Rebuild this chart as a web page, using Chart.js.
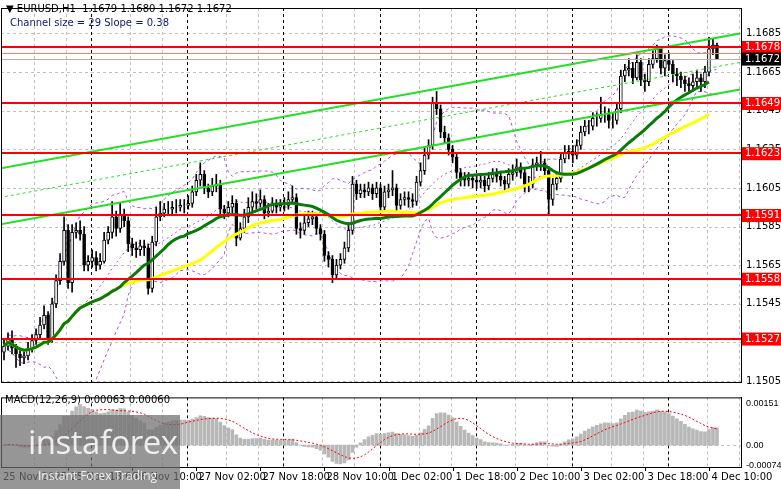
<!DOCTYPE html>
<html>
<head>
<meta charset="utf-8">
<script src="https://cdn.jsdelivr.net/npm/chart.js@4"></script>
<style>
  body { margin: 0; background: #fff; width: 781px; height: 489px; overflow: hidden; position: relative; font-family: "DejaVu Sans", sans-serif; }
  #main { position: absolute; left: 0; top: 0; }
  #macd { position: absolute; left: 0; top: 390px; }
  .txt { position: absolute; font-size: 10px; white-space: pre; color: #000; }
  #logo { position: absolute; left: 0; top: 415px; width: 180px; height: 74px; background: rgba(110,110,110,0.72); color: rgba(255,255,255,0.85); }
  #logo .big { position: absolute; left: 28px; top: 4px; font-size: 33px; font-family: "Open Sans", sans-serif; letter-spacing: -0.5px; }
  #logo .small { position: absolute; left: 38px; top: 52px; font-size: 12px; font-family: "Open Sans", sans-serif; }
</style>
</head>
<body>
<canvas id="main" width="781" height="390"></canvas>
<canvas id="macd" width="781" height="99"></canvas>
<div class="txt" style="left:6px;top:3px;">▼ EURUSD,H1  1.1679 1.1680 1.1672 1.1672</div>
<div class="txt" style="left:10px;top:17px;color:#0e1a6a;">Channel size = 29 Slope = 0.38</div>
<div class="txt" style="left:5px;top:394px;">MACD(12,26,9) 0.00063 0.00060</div>
<div id="logo"><div class="big">instaforex</div><div class="small">Instant Forex Trading</div></div>
<script>
// EURUSD H1, 25 Nov 02:00 .. 4 Dec 12:00
const closes = [
 1.1523,1.1527,1.1522,1.1519,1.1517,1.1518,1.1522,1.1526,1.1529,1.1534,1.1539,1.1527,1.1545,1.1557,1.1567,1.1583,1.1556,1.1582,1.1583,1.1581,
 1.1565,1.1567,1.1569,1.1565,1.1567,1.1578,1.1582,1.1590,1.1584,1.1591,1.1588,1.1576,1.1574,1.1573,1.1575,1.1574,1.1553,1.1577,1.1590,1.1592,
 1.1594,1.1594,1.1595,1.1595,1.1596,1.1596,1.1597,1.1603,1.1609,1.1612,1.1605,1.1603,1.1606,1.1607,1.1594,1.1592,1.1595,1.1597,1.1579,1.1584,
 1.1590,1.1595,1.1598,1.1597,1.1599,1.1592,1.1593,1.1596,1.1595,1.1596,1.1596,1.1599,1.1600,1.1584,1.1583,1.1587,1.1589,1.1590,1.1584,1.1581,
 1.1570,1.1568,1.1560,1.1565,1.1568,1.1574,1.1583,1.1607,1.1602,1.1604,1.1603,1.1605,1.1602,1.1605,1.1595,1.1603,1.1604,1.1605,1.1596,1.1599,
 1.1600,1.1599,1.1598,1.1608,1.1614,1.1622,1.1627,1.1649,1.1646,1.1634,1.1631,1.1625,1.1621,1.1613,1.1610,1.1609,1.1610,1.1609,1.1608,1.1609,
 1.1606,1.1610,1.1612,1.1611,1.1609,1.1607,1.1612,1.1613,1.1616,1.1613,1.1607,1.1607,1.1617,1.1618,1.1618,1.1614,1.1599,1.1607,1.1610,1.1620,
 1.1623,1.1624,1.1622,1.1627,1.1634,1.1637,1.1637,1.1641,1.1641,1.1643,1.1643,1.1640,1.1640,1.1646,1.1663,1.1666,1.1667,1.1662,1.1670,1.1661,
 1.1660,1.1669,1.1672,1.1677,1.1667,1.1671,1.1669,1.1664,1.1663,1.1661,1.1659,1.1658,1.1660,1.1662,1.1660,1.1665,1.1677,1.1679,1.1672
];
const highs = [
 1.1527,1.1530,1.1531,1.1524,1.1521,1.1521,1.1525,1.1529,1.1532,1.1538,1.1544,1.1541,1.1548,1.1560,1.1571,1.1590,1.1586,1.1586,1.1587,1.1588,
 1.1585,1.1570,1.1573,1.1572,1.1571,1.1582,1.1585,1.1598,1.1593,1.1597,1.1594,1.1590,1.1579,1.1577,1.1578,1.1578,1.1576,1.1580,1.1595,1.1598,
 1.1597,1.1598,1.1598,1.1599,1.1599,1.1599,1.1601,1.1606,1.1612,1.1618,1.1614,1.1607,1.1610,1.1612,1.1609,1.1596,1.1598,1.1601,1.1599,1.1587,
 1.1594,1.1600,1.1603,1.1602,1.1604,1.1601,1.1597,1.1600,1.1599,1.1599,1.1600,1.1603,1.1606,1.1602,1.1587,1.1591,1.1593,1.1593,1.1592,1.1586,
 1.1583,1.1572,1.1570,1.1568,1.1571,1.1577,1.1587,1.1611,1.1609,1.1607,1.1607,1.1608,1.1607,1.1608,1.1607,1.1606,1.1607,1.1614,1.1607,1.1602,
 1.1603,1.1603,1.1602,1.1611,1.1618,1.1626,1.1630,1.1652,1.1655,1.1648,1.1637,1.1633,1.1627,1.1623,1.1615,1.1613,1.1613,1.1612,1.1612,1.1612,
 1.1611,1.1613,1.1615,1.1615,1.1613,1.1611,1.1615,1.1617,1.1620,1.1618,1.1615,1.1611,1.1620,1.1621,1.1624,1.1620,1.1616,1.1610,1.1613,1.1623,
 1.1627,1.1627,1.1627,1.1630,1.1637,1.1640,1.1640,1.1644,1.1644,1.1652,1.1647,1.1646,1.1644,1.1649,1.1666,1.1669,1.1672,1.1670,1.1674,1.1672,
 1.1664,1.1672,1.1676,1.1679,1.1678,1.1674,1.1675,1.1671,1.1667,1.1665,1.1663,1.1662,1.1664,1.1666,1.1664,1.1668,1.1683,1.1682,1.1680
];
const lows = [
 1.1516,1.1521,1.1519,1.1512,1.1513,1.1514,1.1516,1.1520,1.1524,1.1527,1.1532,1.1524,1.1525,1.1543,1.1555,1.1565,1.1553,1.1551,1.1579,1.1578,
 1.1562,1.1562,1.1564,1.1562,1.1563,1.1566,1.1576,1.1579,1.1580,1.1582,1.1585,1.1572,1.1570,1.1569,1.1570,1.1570,1.1550,1.1551,1.1575,1.1588,
 1.1590,1.1591,1.1591,1.1592,1.1593,1.1592,1.1594,1.1595,1.1601,1.1606,1.1602,1.1600,1.1601,1.1603,1.1590,1.1589,1.1590,1.1592,1.1575,1.1578,
 1.1582,1.1587,1.1593,1.1594,1.1595,1.1589,1.1590,1.1592,1.1592,1.1593,1.1593,1.1594,1.1597,1.1581,1.1579,1.1581,1.1585,1.1586,1.1581,1.1578,
 1.1567,1.1564,1.1556,1.1558,1.1563,1.1566,1.1572,1.1581,1.1599,1.1600,1.1600,1.1601,1.1599,1.1600,1.1592,1.1593,1.1600,1.1601,1.1593,1.1594,
 1.1596,1.1595,1.1595,1.1596,1.1606,1.1612,1.1620,1.1625,1.1643,1.1631,1.1628,1.1622,1.1618,1.1610,1.1606,1.1606,1.1606,1.1605,1.1605,1.1605,
 1.1603,1.1604,1.1608,1.1608,1.1606,1.1603,1.1605,1.1609,1.1611,1.1610,1.1603,1.1603,1.1605,1.1614,1.1614,1.1611,1.1591,1.1596,1.1604,1.1608,
 1.1618,1.1620,1.1618,1.1620,1.1625,1.1632,1.1633,1.1635,1.1637,1.1639,1.1639,1.1636,1.1636,1.1638,1.1644,1.1660,1.1663,1.1659,1.1661,1.1658,
 1.1655,1.1658,1.1667,1.1670,1.1664,1.1663,1.1666,1.1660,1.1658,1.1657,1.1655,1.1654,1.1655,1.1657,1.1655,1.1657,1.1663,1.1674,1.1672
];
const firstOpen = 1.1520;

const priceTicks = [1.1505,1.1525,1.1545,1.1565,1.1585,1.1605,1.1625,1.1645,1.1665,1.1685];
const levels = [1.1678,1.1649,1.1623,1.1591,1.1558,1.1527];
const bidPrice = 1.1672;
const askPrice = 1.1675;
// channel lines: values at bar index -1.25 and 183.75
const channelX = [-1.25, 183.75];
const channelUpper = [1.1615, 1.1685];
const channelMid = [1.1600, 1.1670];
const channelLower = [1.1586, 1.1656];
const macdTicks = [-0.00074, 0, 0.00151];
const macdTickLabels = ['-0.00074', '0.00', '0.00151'];
const timeTickIdx = [16,32,48,64,80,96,112,128,144,160,176];
const timeTickLabels = ['25 Nov 18:00','26 Nov 10:00','27 Nov 02:00','27 Nov 18:00','28 Nov 10:00','1 Dec 02:00','1 Dec 18:00','2 Dec 10:00','3 Dec 02:00','3 Dec 18:00','4 Dec 10:00'];
const daySeps = [21.75,45.75,69.75,93.75,117.75,141.75,165.75];

const N = closes.length;
const opens = closes.map((c, i) => i === 0 ? firstOpen : closes[i - 1]);

function sma(src, p) {
  return src.map((v, i) => {
    const s = src.slice(Math.max(0, i - p + 1), i + 1);
    return s.reduce((a, b) => a + b, 0) / s.length;
  });
}
function ema(src, p) {
  const k = 2 / (p + 1); let e = src[0];
  return src.map(v => (e = v * k + e * (1 - k)));
}
function stdev(src, p) {
  return src.map((v, i) => {
    const s = src.slice(Math.max(0, i - p + 1), i + 1);
    const m = s.reduce((a, b) => a + b, 0) / s.length;
    return Math.sqrt(s.reduce((a, b) => a + (b - m) * (b - m), 0) / s.length);
  });
}
const maFast = sma(closes, 30);
const maSlow = sma(closes, 50);
const bbMid = sma(closes, 20), bbSd = stdev(closes, 20);
const e12 = ema(closes, 12), e26 = ema(closes, 26);
const macdMain = e12.map((v, i) => v - e26[i]);
const macdSignal = sma(macdMain, 9);

const pts = arr => arr.map((v, i) => ({ x: i, y: v }));
const XMIN = -0.75, XMAX = 184;

function rightAxis(min, max, ticks, labels, font) {
  return {
    position: 'right', min: min, max: max,
    afterFit: s => { s.width = 40; },
    afterBuildTicks: s => { s.ticks = ticks.map(v => ({ value: v })); },
    ticks: { color: '#000', font: font, padding: 2,
      callback: (v, i) => labels ? labels[i] : v.toFixed(4) },
    grid: { display: false, drawTicks: true, tickLength: 3, tickColor: '#000' },
    border: { color: '#000', width: 1 }
  };
}
const xAxis = { type: 'linear', min: XMIN, max: XMAX, offset: false, display: false, grid: { offset: false } };

function dashedV(ctx, area, x, color) {
  ctx.save(); ctx.strokeStyle = color; ctx.lineWidth = 1; ctx.setLineDash([3, 3]);
  ctx.beginPath(); ctx.moveTo(Math.round(x) + 0.5, area.top); ctx.lineTo(Math.round(x) + 0.5, area.bottom); ctx.stroke();
  ctx.restore();
}

const gridPlugin = {
  id: 'grid',
  beforeDatasetsDraw(chart) {
    const { ctx, chartArea: a, scales: { x, y } } = chart;
    ctx.save(); ctx.strokeStyle = '#c0c0c0'; ctx.setLineDash([3, 3]); ctx.lineWidth = 1;
    if (chart.canvas.id === 'main') {
      priceTicks.forEach(p => { const py = Math.round(y.getPixelForValue(p)) + 0.5;
        ctx.beginPath(); ctx.moveTo(a.left, py); ctx.lineTo(a.right, py); ctx.stroke(); });
    } else {
      const py = Math.round(y.getPixelForValue(0)) + 0.5;
      ctx.beginPath(); ctx.moveTo(a.left, py); ctx.lineTo(a.right, py); ctx.stroke();
    }
    ctx.restore();
    for (let i = 7.5; i < XMAX; i += 8) {
      if (daySeps.some(d => Math.abs(d - i) < 3)) continue;
      dashedV(ctx, a, x.getPixelForValue(i), '#c0c0c0');
    }
    daySeps.forEach(d => dashedV(ctx, a, x.getPixelForValue(d), '#000'));
  },
  afterDraw(chart) {
    const { ctx, chartArea: a } = chart;
    ctx.save(); ctx.strokeStyle = '#000'; ctx.lineWidth = 1;
    ctx.strokeRect(a.left + 0.5, a.top + 0.5, a.right - a.left, a.bottom - a.top);
    ctx.restore();
  }
};

function priceBox(ctx, a, py, text, bg) {
  ctx.fillStyle = bg; ctx.fillRect(a.right + 1, py - 6, 40, 13);
  ctx.fillStyle = '#fff'; ctx.font = '10px DejaVu Sans'; ctx.textBaseline = 'middle'; ctx.textAlign = 'left';
  ctx.fillText(text, a.right + 4, py + 0.5);
}

const levelsPlugin = {
  id: 'levels',
  afterDatasetsDraw(chart) {
    const { ctx, chartArea: a, scales: { y } } = chart;
    ctx.save();
    ctx.strokeStyle = '#ff8060'; ctx.lineWidth = 1;
    let py = Math.round(y.getPixelForValue(askPrice)) + 0.5;
    ctx.beginPath(); ctx.moveTo(a.left, py); ctx.lineTo(a.right, py); ctx.stroke();
    ctx.strokeStyle = '#b0b0b0';
    py = Math.round(y.getPixelForValue(bidPrice)) + 0.5;
    ctx.beginPath(); ctx.moveTo(a.left, py); ctx.lineTo(a.right, py); ctx.stroke();
    ctx.strokeStyle = '#ff0000'; ctx.lineWidth = 2;
    levels.forEach(p => { const q = Math.round(y.getPixelForValue(p));
      ctx.beginPath(); ctx.moveTo(a.left, q); ctx.lineTo(a.right, q); ctx.stroke(); });
    ctx.restore();
  },
  afterDraw(chart) {
    const { ctx, chartArea: a, scales: { y } } = chart;
    ctx.save();
    levels.forEach(p => priceBox(ctx, a, y.getPixelForValue(p), p.toFixed(4), '#ff0000'));
    priceBox(ctx, a, y.getPixelForValue(bidPrice), bidPrice.toFixed(4), '#000');
    ctx.restore();
  }
};

const bull = closes.map((c, i) => c >= opens[i]);
new Chart(document.getElementById('main'), {
  type: 'bar',
  data: {
    datasets: [
      { type: 'line', order: 1, data: channelX.map((x, i) => ({ x, y: channelUpper[i] })), borderColor: '#22e022', borderWidth: 2, pointRadius: 0 },
      { type: 'line', order: 1, data: channelX.map((x, i) => ({ x, y: channelLower[i] })), borderColor: '#22e022', borderWidth: 2, pointRadius: 0 },
      { type: 'line', order: 1, data: channelX.map((x, i) => ({ x, y: channelMid[i] })), borderColor: '#22e022', borderWidth: 1, borderDash: [3, 3], pointRadius: 0 },
      { type: 'line', order: 2, data: pts(maFast).slice(0, N - 2), borderColor: '#0a7a0a', borderWidth: 3, pointRadius: 0 },
      { type: 'line', order: 2, data: pts(maSlow).slice(0, N - 2), borderColor: '#ffff00', borderWidth: 3, pointRadius: 0 },
      { order: 3, grouped: false, barThickness: 3, data: closes.map((c, i) => ({ x: i, y: [opens[i], c] })),
        backgroundColor: bull.map(b => b ? '#fff' : '#000'), borderColor: '#000', borderWidth: 1, borderSkipped: false },
      { order: 4, grouped: false, barThickness: 1, data: closes.map((c, i) => ({ x: i, y: [lows[i], highs[i]] })), backgroundColor: '#000' },
      { type: 'line', order: 5, data: pts(bbMid.map((m, i) => m + 2 * bbSd[i])), borderColor: '#b050e0', borderWidth: 1, borderDash: [3, 3], pointRadius: 0 },
      { type: 'line', order: 5, data: pts(bbMid.map((m, i) => m - 2 * bbSd[i])), borderColor: '#b050e0', borderWidth: 1, borderDash: [3, 3], pointRadius: 0 },
      { type: 'line', order: 5, data: pts(bbMid), borderColor: '#b050e0', borderWidth: 1, borderDash: [2, 3], pointRadius: 0 }
    ]
  },
  options: {
    animation: false, responsive: false, events: [],
    layout: { padding: { left: 1, top: 1, bottom: 1, right: 0 } },
    plugins: { legend: { display: false }, tooltip: { enabled: false } },
    scales: { x: xAxis, y: rightAxis(1.15045, 1.16982, priceTicks, null, { size: 10, family: 'DejaVu Sans' }) }
  },
  plugins: [gridPlugin, levelsPlugin]
});

const timePlugin = {
  id: 'time',
  afterDraw(chart) {
    const { ctx, chartArea: a, scales: { x } } = chart;
    ctx.save(); ctx.fillStyle = '#000'; ctx.strokeStyle = '#000'; ctx.font = '10px DejaVu Sans';
    ctx.textBaseline = 'top'; ctx.textAlign = 'left';
    ctx.fillText('25 Nov 2025', 3, a.bottom + 5);
    timeTickIdx.forEach((t, i) => {
      const px = Math.round(x.getPixelForValue(t)) + 0.5;
      ctx.beginPath(); ctx.moveTo(px, a.bottom); ctx.lineTo(px, a.bottom + 4); ctx.stroke();
      ctx.fillText(timeTickLabels[i], px + 2, a.bottom + 5);
    });
    ctx.restore();
  }
};

new Chart(document.getElementById('macd'), {
  type: 'bar',
  data: {
    datasets: [
      { type: 'line', order: 1, data: pts(macdSignal), borderColor: '#ff0000', borderWidth: 1, borderDash: [2, 2], pointRadius: 0 },
      { order: 2, barThickness: 3, data: pts(macdMain), backgroundColor: '#b8b8b8' }
    ]
  },
  options: {
    animation: false, responsive: false, events: [],
    layout: { padding: { left: 1, top: 1, bottom: 22, right: 0 } },
    plugins: { legend: { display: false }, tooltip: { enabled: false } },
    scales: { x: xAxis, y: rightAxis(-0.0008, 0.00174, macdTicks, macdTickLabels, { size: 9, family: 'Liberation Sans' }) }
  },
  plugins: [gridPlugin, timePlugin]
});
</script>
</body>
</html>
